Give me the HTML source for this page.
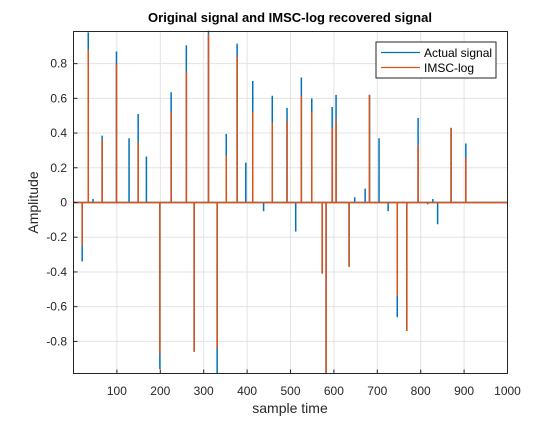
<!DOCTYPE html>
<html><head><meta charset="utf-8"><style>
html,body{margin:0;padding:0;background:#fff;}
svg text{font-family:"Liberation Sans",Arial,sans-serif;}
</style></head><body>
<svg id="chart" width="560" height="420" xmlns="http://www.w3.org/2000/svg">
<rect width="560" height="420" fill="#fff"/>
<g id="grid"></g><g id="marks"></g><g id="axes"></g>
</svg>
<script>
const samples =   [20,34,45,66,99,128,149,168,199,225,260,278,311,331,352,377,397,413,438,458,492,512,525,549,573,582,596,605,635,648,672,682,704,725,746,768,794,816,828,839,870,904];
const actualVals =[-0.34,0.98,0.02,0.385,0.87,0.37,0.51,0.265,-0.96,0.635,0.905,-0.86,0.99,-0.985,0.395,0.915,0.23,0.70,-0.05,0.615,0.545,-0.167,0.72,0.60,-0.41,-0.985,0.55,0.62,-0.37,0.03,0.08,0.62,0.37,-0.05,-0.66,-0.74,0.487,-0.01,0.02,-0.125,0.43,0.34];
const imscVals =  [-0.25,0.88,0,0.36,0.80,0,0.345,0,-0.87,0.52,0.755,-0.86,0.97,-0.84,0.27,0.84,0,0.52,0,0.46,0.47,0,0.617,0.52,-0.41,-0.985,0.43,0.48,-0.37,0,0,0.62,0,0,-0.54,-0.74,0.33,0,0,0,0.43,0.26];
const xTicks = [100,200,300,400,500,600,700,800,900,1000];
const yTicks = [-0.8,-0.6,-0.4,-0.2,0,0.2,0.4,0.6,0.8];
const L=73.5,R=507.5,T=31.5,B=373.5, yMin=-0.985,yMax=0.985;
const xs=v=>L+(v/1000)*(R-L);
const ys=v=>B-(v-yMin)/(yMax-yMin)*(B-T);
const NS="http://www.w3.org/2000/svg";
function mk(tag,attrs,parent){const e=document.createElementNS(NS,tag);for(const k in attrs)e.setAttribute(k,attrs[k]);parent.appendChild(e);return e;}
const grid=document.getElementById('grid'),marks=document.getElementById('marks'),axes=document.getElementById('axes');
xTicks.forEach(t=>{const l=mk('line',{x1:xs(t),x2:xs(t),y1:T,y2:B,stroke:'#e3e3e3','stroke-width':1},grid);


const tx=mk('text',{x:xs(t),y:395,'font-size':12,'text-anchor':'middle',fill:'#262626'},axes);tx.textContent=t;


mk('line',{x1:xs(t),x2:xs(t),y1:B,y2:B-4,stroke:'#262626'},axes);});
yTicks.forEach(t=>{const l=mk('line',{x1:L,x2:R,y1:ys(t),y2:ys(t),stroke:'#e3e3e3','stroke-width':1},grid);


const tx=mk('text',{x:67,y:ys(t)+4,'font-size':12,'text-anchor':'end',fill:'#262626'},axes);tx.textContent=(t===0?'0':t.toFixed(1));


mk('line',{x1:L,x2:L+4,y1:ys(t),y2:ys(t),stroke:'#262626'},axes);});
// actual signal path
let d1=`M${L},${ys(0)}`;samples.forEach((s,i)=>{d1+=` L${xs(s)},${ys(0)} L${xs(s)},${ys(actualVals[i])} L${xs(s)},${ys(0)}`;});d1+=` L${R},${ys(0)}`;
const p1=mk('path',{d:d1,fill:'none',stroke:'#0072BD','stroke-width':1.5},marks);


let d2=`M${L},${ys(0)}`;samples.forEach((s,i)=>{d2+=` L${xs(s)},${ys(0)} L${xs(s)},${ys(imscVals[i])} L${xs(s)},${ys(0)}`;});d2+=` L${R},${ys(0)}`;
const p2=mk('path',{d:d2,fill:'none',stroke:'#D95319','stroke-width':1.5},marks);


const box=mk('rect',{x:L,y:T,width:R-L,height:B-T,fill:'none',stroke:'#262626','stroke-width':1},axes);


const title=mk('text',{x:290,y:22,'font-size':13,'font-weight':'bold','text-anchor':'middle',fill:'#000'},axes);title.textContent='Original signal and IMSC-log recovered signal';


const xl=mk('text',{x:290,y:413,'font-size':14,'text-anchor':'middle',fill:'#262626'},axes);xl.textContent='sample time';


const yl=mk('text',{x:0,y:0,'font-size':14,'text-anchor':'middle',fill:'#262626',transform:`translate(38,${ys(0)}) rotate(-90)`},axes);yl.textContent='Amplitude';


const lg=mk('g',{},axes);


mk('rect',{x:376,y:42,width:120,height:36,fill:'#fff',stroke:'#262626','stroke-width':1},lg);
const e1=mk('g',{},lg);


mk('line',{x1:381,x2:420,y1:52.5,y2:52.5,stroke:'#0072BD','stroke-width':1.3},e1);
const t1=mk('text',{x:424,y:57,'font-size':12,fill:'#000'},e1);t1.textContent='Actual signal';
const e2=mk('g',{},lg);


mk('line',{x1:381,x2:420,y1:67.5,y2:67.5,stroke:'#D95319','stroke-width':1.3},e2);
const t2=mk('text',{x:424,y:72,'font-size':12,fill:'#000'},e2);t2.textContent='IMSC-log';
</script>
</body></html>
